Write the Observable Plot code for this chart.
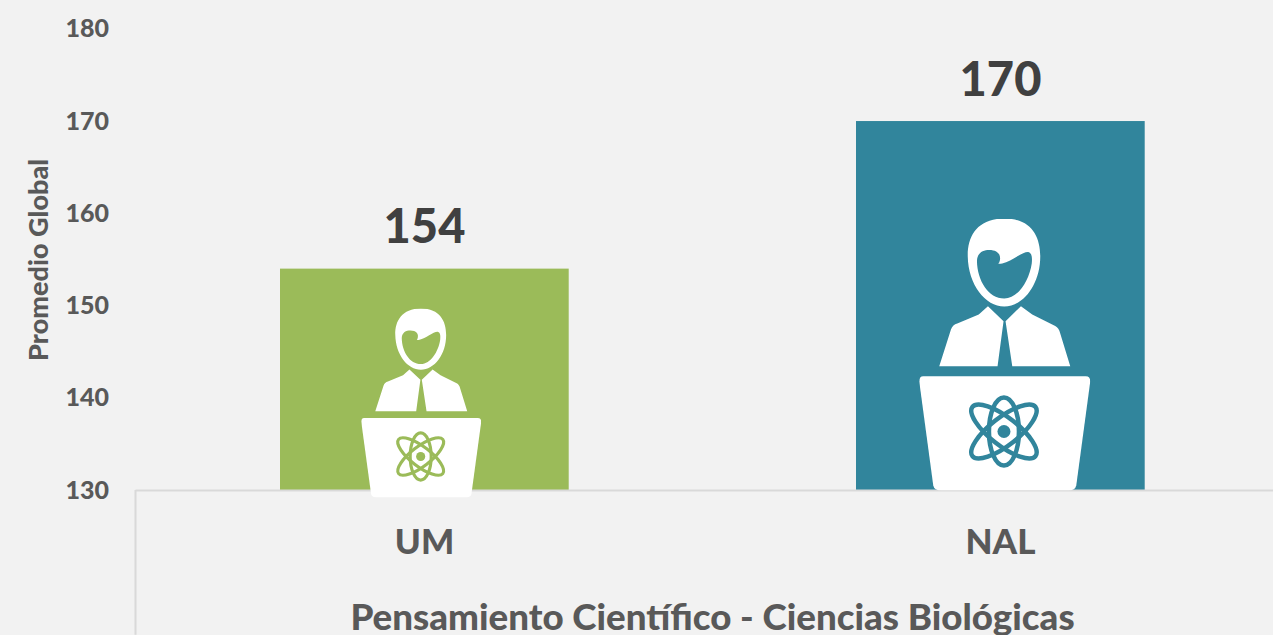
<!DOCTYPE html>
<html><head><meta charset="utf-8">
<style>html,body{margin:0;padding:0;background:#f2f2f2;overflow:hidden}svg{display:block}</style>
<script src="https://cdn.jsdelivr.net/npm/d3@7"></script>
<script src="https://cdn.jsdelivr.net/npm/@observablehq/plot@0.6"></script>
</head><body><div id="chart"></div>
<script>
const categories = ["UM", "NAL"];
const values = [154, 170];
const barColors = ["#9BBB59", "#31859C"];
const yTicks = [130, 140, 150, 160, 170, 180];
const yLabel = "Promedio Global";
const xTitle = "Pensamiento Científico - Ciencias Biológicas";

const rows = categories.map((category, i) => ({category, value: values[i]}));
const font = "Lato, Carlito, sans-serif";

// Presenter pictogram as a data-URI image, coloured to suit its bar
function icon(color) {
  const svg = `<svg xmlns="http://www.w3.org/2000/svg" viewBox="0 0 171 272">
  <path fill="#fff" d="M85 0C58 0 48 18 48.500 38C49 66 66 88 85 88C104 88 121 66 121 38C121 18 112 0 85 0Z"/>
  <path fill="${color}" d="M57.700 42.500C58 34 64 31.500 70 31.500C78 31.500 83 36 80 44C78 45.500 80 45.500 83 45C92 43 103 33 109 33.500C113 34.500 113 40 112.500 45C110 62 99 80 85 80C69 80 58 62 57.700 42.500Z"/>
  <path fill="#fff" d="M20 147.700L31.700 111C33 107.500 35 106 38 105L59.500 96L68.700 87.700L84.300 102.700L78.300 147.700Z"/>
  <path fill="#fff" d="M93 147.700L86.300 102.700L101.700 87.700L113 96L136 107.500C138.500 109 140 111 141 115L151 147.700Z"/>
  <path fill="#fff" d="M4 157.700H166.500Q171 157.700 171 163L157 267Q156 272 149 272H22Q15 272 14 267L0 163Q0 157.700 4 157.700Z"/>
  <g fill="none" stroke="${color}" stroke-width="4.500" transform="translate(84.700 213)">
    <ellipse rx="15" ry="34"/>
    <ellipse rx="14" ry="40" transform="rotate(52)"/>
    <ellipse rx="14" ry="40" transform="rotate(-52)"/>
  </g>
  <circle cx="84.700" cy="213" r="6.500" fill="${color}"/>
</svg>`;
  return "data:image/svg+xml," + encodeURIComponent(svg);
}

const chart = Plot.plot({
  width: 1273,
  height: 635,
  marginLeft: 135.5,
  marginRight: -15.5,
  marginTop: 28.8,
  marginBottom: 145,
  style: {background: "#f2f2f2", fontFamily: font},
  x: {domain: categories, paddingInner: 0.5, paddingOuter: 0.25, align: 0.5, label: null},
  y: {domain: [130, 180], label: null},
  color: {domain: categories, range: barColors},
  marks: [
    Plot.barY(rows, {x: "category", y1: 130, y2: "value", fill: "category", insetRight: -0.7}),
    Plot.ruleY([130], {stroke: "#d9d9d9", strokeWidth: 2}),
    Plot.ruleX([categories[0]], {x: d => d, y1: 130, y2: 114.3, dx: -289, stroke: "#d9d9d9", strokeWidth: 2}),
    Plot.axisY({ticks: yTicks, tickSize: 0, tickPadding: 27, label: null, fontSize: 25, fontWeight: 900, fill: "#595959"}),
    Plot.axisX({tickSize: 0, tickPadding: 39, label: null, fontSize: 35, fontWeight: 900, fill: "#595959"}),
    Plot.text(rows, {x: "category", y: "value", text: d => String(d.value), dy: -41, fontSize: 47, fontWeight: 900, fill: "#404040", lineAnchor: "middle"}),
    Plot.text([yLabel], {text: d => d, frameAnchor: "left", textAnchor: "middle", rotate: -90, dx: -96.5, fontSize: 27, fontWeight: 900, fill: "#595959"}),
    Plot.text([xTitle], {text: d => d, frameAnchor: "bottom", dy: 128, fontSize: 36.7, fontWeight: 900, fill: "#595959", lineAnchor: "middle"}),
    Plot.image([categories[0]], {x: d => d, y: 130, src: icon(barColors[0]), width: 120, height: 189, dx: -3.25, dy: -87.5, preserveAspectRatio: "none"}),
    Plot.image([categories[1]], {x: d => d, y: 130, src: icon(barColors[1]), width: 171, height: 272, dx: 4.25, dy: -136, preserveAspectRatio: "none"})
  ]
});
document.getElementById("chart").append(chart);
</script></body></html>
